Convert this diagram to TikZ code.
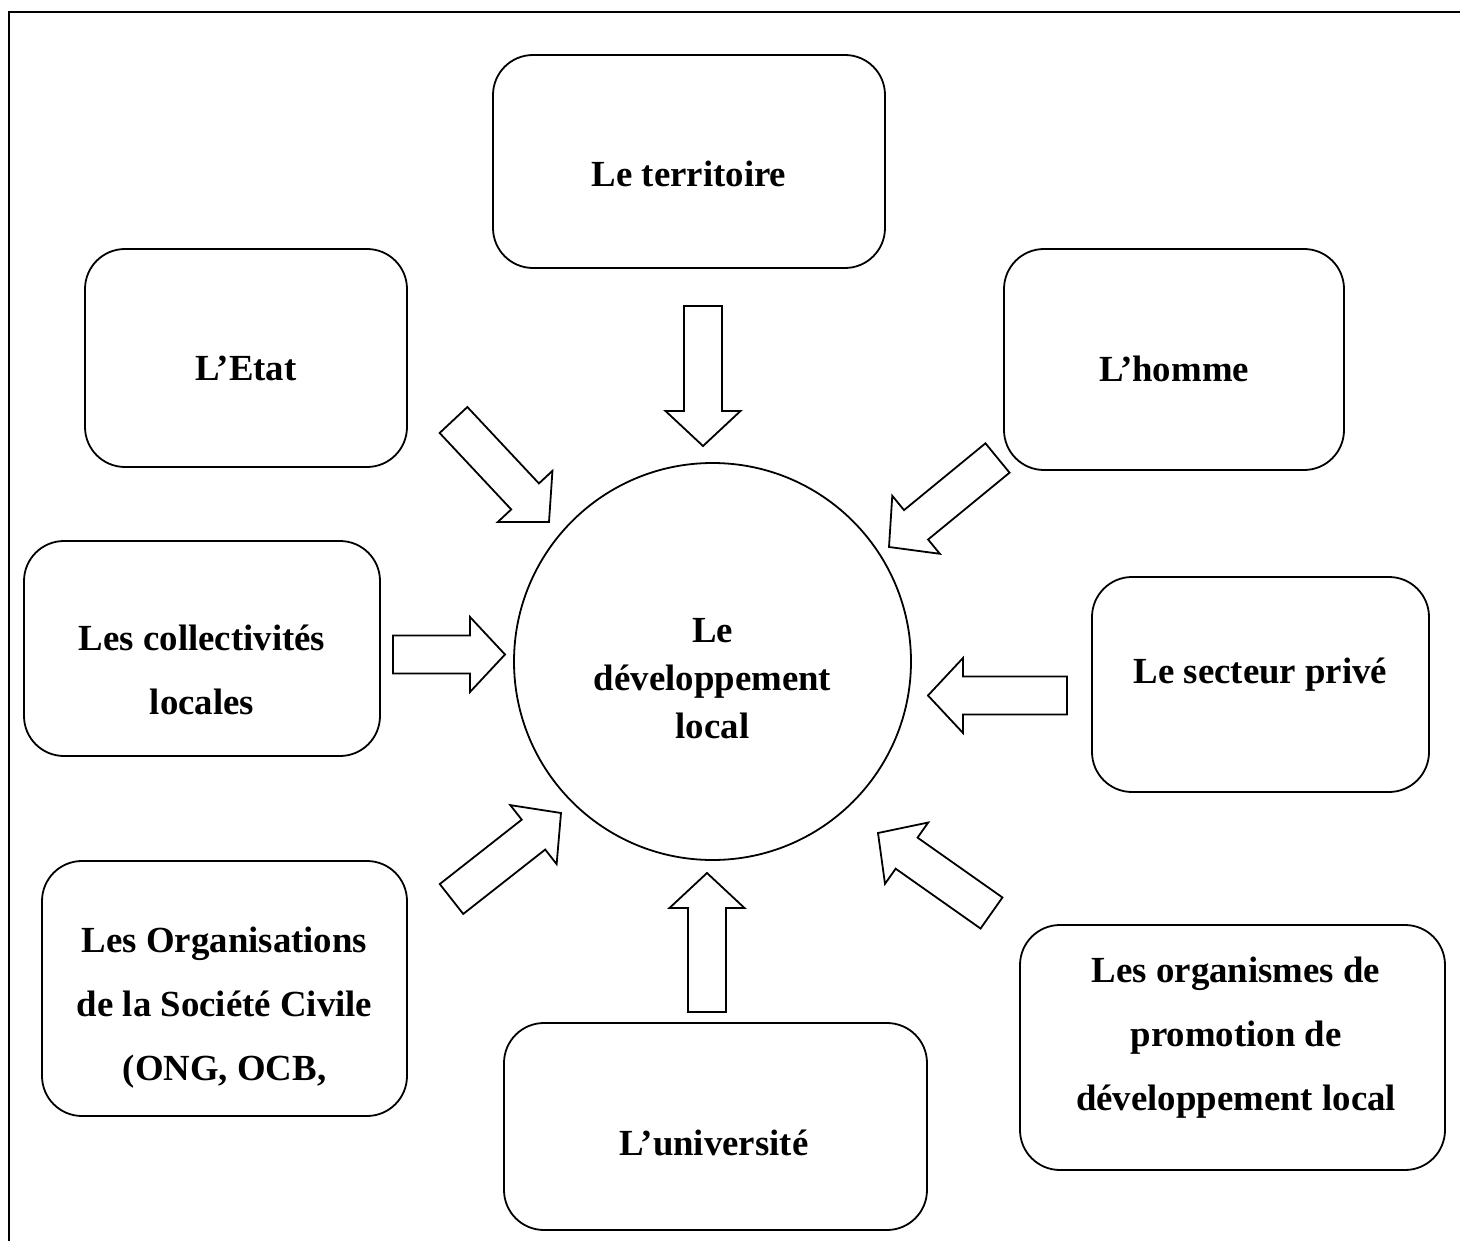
\documentclass[tikz,border=0pt]{standalone}
\usepackage{fontspec}
\setmainfont{Liberation Serif}
\usetikzlibrary{calc}

\tikzset {
  % open frame round the figure
  frame/.style = {
    draw = black,
    line width = 2pt
  },
  actor/.style = {
    draw = black,
    line width = 1.8pt,
    rectangle,
    rounded corners = 40pt,
    inner sep = 0
  },
  hub/.style = {
    draw = black,
    line width = 1.8pt,
    circle,
    minimum size = 397pt,
    inner sep = 0
  },
  % base anchor sits on the last line
  caption/.style = {
    font = \bfseries\fontsize{36.8}{64}\selectfont,
    align = center,
    anchor = base,
    inner sep = 0
  },
  hub caption/.style = {
    caption,
    font = \bfseries\fontsize{36.8}{48}\selectfont
  },
  % hollow block arrow from start to target
  flow/.style = {
    draw = black,
    fill = white,
    line width = 1.8pt,
    to path = {
      let \p1 = ($(\tikztotarget)-(\tikztostart)$),
          \n1 = {atan2(\y1,\x1)},
          \n2 = {veclen(\x1,\y1)} in
      ($(\tikztostart)+(\n1-90:19pt)$)
      -- ($(\tikztostart)+(\n1:\n2-35pt)+(\n1-90:19pt)$)
      -- ($(\tikztostart)+(\n1:\n2-35pt)+(\n1-90:37.5pt)$)
      -- (\tikztotarget)
      -- ($(\tikztostart)+(\n1:\n2-35pt)+(\n1+90:37.5pt)$)
      -- ($(\tikztostart)+(\n1:\n2-35pt)+(\n1+90:19pt)$)
      -- ($(\tikztostart)+(\n1+90:19pt)$)
      -- cycle
    }
  }
}

\begin{document}
\begin{tikzpicture}[x = 1pt, y = -1pt]
    \useasboundingbox (0,0) rectangle (1460,1241);
    \draw[frame] (9,1241) -- (9,12) -- (1460,12);

    \node[hub] (dev) at (712.5,661.5) {};
    \node[hub caption] (dev-text) at (712.5,738) {Le\\développement\\local};

    \node[actor, minimum width = 392pt, minimum height = 213pt] (territoire) at (689,161.5) {};
    \node[actor, minimum width = 322pt, minimum height = 218pt] (etat) at (246,358) {};
    \node[actor, minimum width = 340pt, minimum height = 221pt] (homme) at (1174,359.5) {};
    \node[actor, minimum width = 356pt, minimum height = 215pt] (collectivites) at (202,648.5) {};
    \node[actor, minimum width = 337pt, minimum height = 215pt] (secteur) at (1260.5,684.5) {};
    \node[actor, minimum width = 365pt, minimum height = 255pt] (osc) at (224.5,988.5) {};
    \node[actor, minimum width = 425pt, minimum height = 245pt] (organismes) at (1232.5,1047.5) {};
    \node[actor, minimum width = 423pt, minimum height = 207pt] (universite) at (715.5,1126.5) {};

    \node[caption] (territoire-text) at (689,187) {Le territoire};
    \node[caption] (etat-text) at (246,381) {L’Etat};
    \node[caption] (homme-text) at (1174,382) {L’homme};
    \node[caption] (collectivites-text) at (202,714) {Les collectivités\\locales};
    \node[caption] (secteur-text) at (1260.5,683) {Le secteur privé};
    \node[caption] (osc-text) at (224.5,1080) {Les Organisations\\de la Société Civile\\(ONG, OCB,};
    \node[caption] (organismes-text) at (1236,1110) {Les organismes de\\promotion de\\développement local};
    \node[caption] (universite-text) at (714,1155) {L’université};

    \coordinate (territoire-tail) at (703,306);
    \coordinate (territoire-tip) at (703,446);
    \coordinate (etat-tail) at (453.5,420);
    \coordinate (etat-tip) at (549,522);
    \coordinate (homme-tail) at (997.5,458);
    \coordinate (homme-tip) at (889,547);
    \coordinate (collectivites-tail) at (393,654.5);
    \coordinate (collectivites-tip) at (505,654.5);
    \coordinate (secteur-tail) at (1067,695.5);
    \coordinate (secteur-tip) at (928,695.5);
    \coordinate (osc-tail) at (451.5,899);
    \coordinate (osc-tip) at (561,813);
    \coordinate (universite-tail) at (707,1012);
    \coordinate (universite-tip) at (707,873);
    \coordinate (organismes-tail) at (991.5,913);
    \coordinate (organismes-tip) at (878,833);

    \draw[flow] (territoire-tail) to (territoire-tip);
    \draw[flow] (etat-tail) to (etat-tip);
    \draw[flow] (homme-tail) to (homme-tip);
    \draw[flow] (collectivites-tail) to (collectivites-tip);
    \draw[flow] (secteur-tail) to (secteur-tip);
    \draw[flow] (osc-tail) to (osc-tip);
    \draw[flow] (universite-tail) to (universite-tip);
    \draw[flow] (organismes-tail) to (organismes-tip);
\end{tikzpicture}
\end{document}
